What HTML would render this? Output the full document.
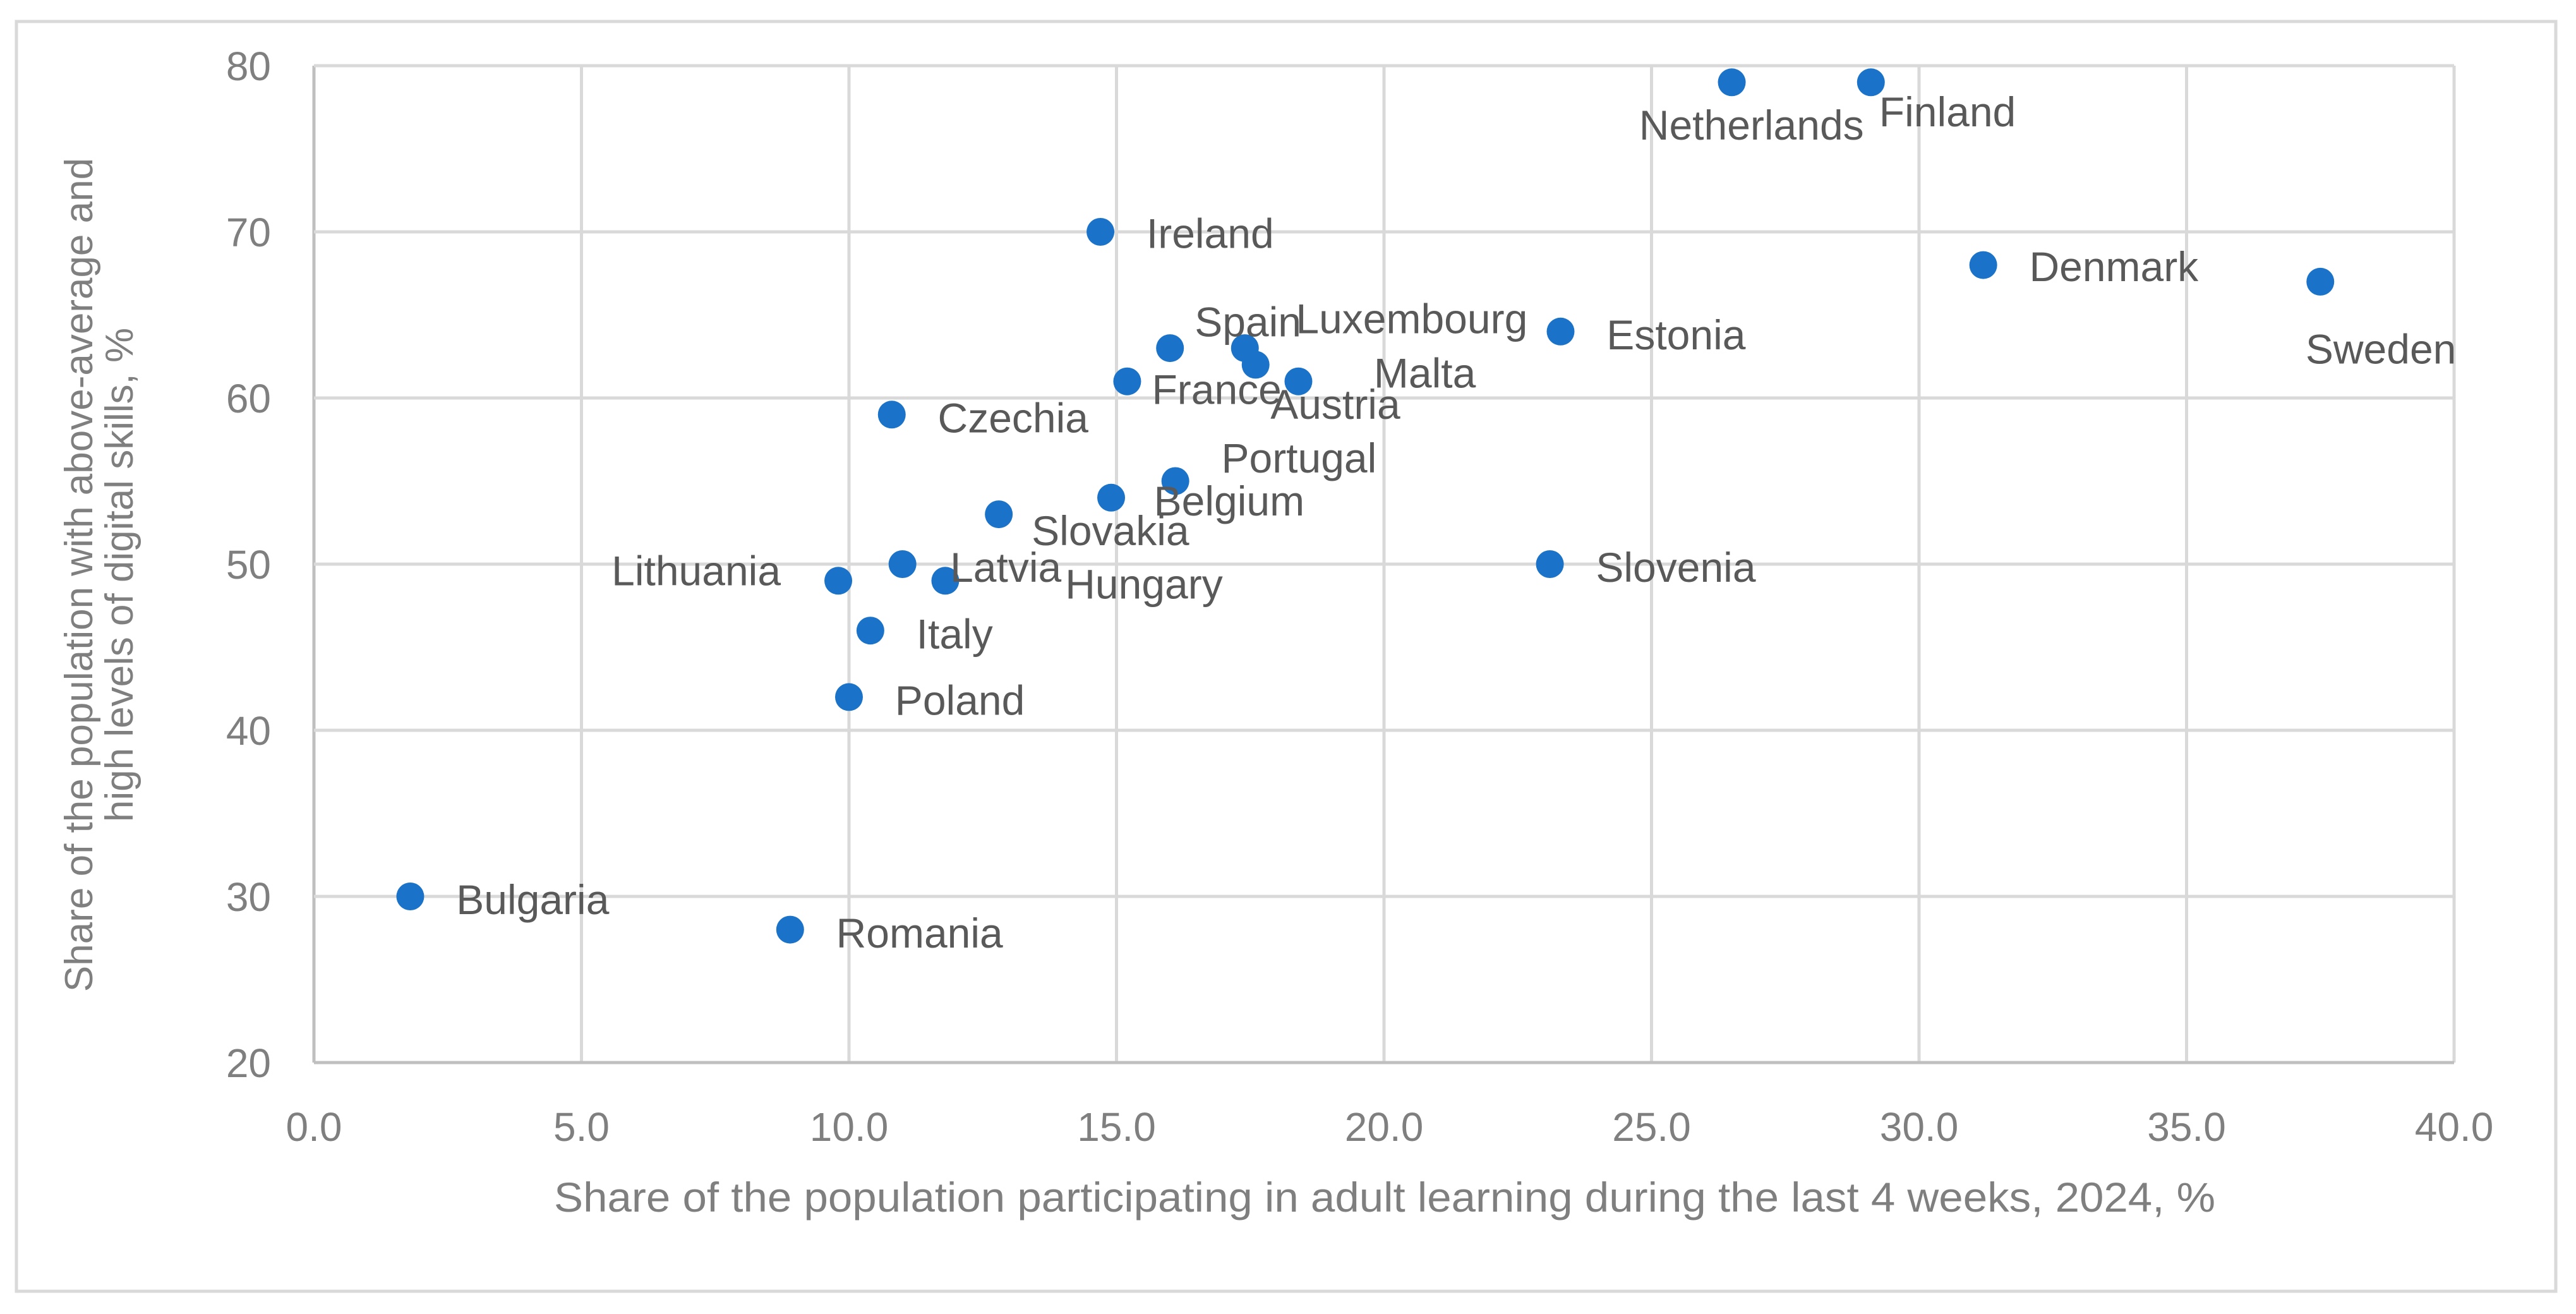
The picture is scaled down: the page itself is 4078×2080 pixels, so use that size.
<!DOCTYPE html>
<html><head><meta charset="utf-8"><style>
html,body{margin:0;padding:0;background:#fff}
svg{display:block}
text{font-family:"Liberation Sans",sans-serif}
</style></head><body>
<svg id="chart" width="4078" height="2080" viewBox="0 0 4078 2080" xmlns="http://www.w3.org/2000/svg">
<rect x="26" y="34" width="4020" height="2010" fill="#fff" stroke="#d9d9d9" stroke-width="5"/>
<g id="grid"></g>
<g id="ticks"></g>
<g id="points"></g>
<g id="labels"></g>
<text x="2192" y="1918" text-anchor="middle" font-size="66" fill="#7f7f7f" textLength="2630" lengthAdjust="spacingAndGlyphs">Share of the population participating in adult learning during the last 4 weeks, 2024, %</text>
<text transform="translate(146,910) rotate(-90)" text-anchor="middle" font-size="62" fill="#7f7f7f"><tspan x="0" y="0">Share of the population with above-average and</tspan><tspan x="0" y="64">high levels of digital skills, %</tspan></text>
</svg>
<script>
const countries=["Bulgaria","Romania","Poland","Italy","Lithuania","Latvia","Hungary","Czechia","Slovakia","Belgium","Portugal","Ireland","France","Spain","Luxembourg","Malta","Austria","Estonia","Slovenia","Netherlands","Finland","Denmark","Sweden"];
const xValues=[1.8,8.9,10.0,10.4,9.8,11.0,11.8,10.8,12.8,14.9,16.1,14.7,15.2,16.0,17.4,17.6,18.4,23.3,23.1,26.5,29.1,31.2,37.5];
const yValues=[30,28,42,46,49,50,49,59,53,54,55,70,61,63,63,62,61,64,50,79,79,68,67];
const xTicks=[0,5,10,15,20,25,30,35,40];
const yTicks=[20,30,40,50,60,70,80];
// label offsets (displayed units) [dx, dy, anchor]
const labelOffsets=[[28,2,"start"],[28,2,"start"],[28,2,"start"],[28,2,"start"],[-35,-6,"end"],[29,2,"start"],[73,2,"start"],[28,2,"start"],[20,10,"start"],[26,2,"start"],[28,-14,"start"],[28,1,"start"],[15,5,"start"],[15,-16,"start"],[31,-18,"start"],[72,5,"start"],[-17,14,"start"],[28,2,"start"],[28,2,"start"],[12,26,"middle"],[5,18,"start"],[28,1,"start"],[-9,41,"start"]];
const L=497,R=3885,T=104,B=1682,S=2.6;
const xs=v=>L+(v-0)/(40-0)*(R-L);
const ys=v=>B-(v-20)/(80-20)*(B-T);
const NS="http://www.w3.org/2000/svg";
function mk(tag,attrs,parent){const e=document.createElementNS(NS,tag);for(const k in attrs)e.setAttribute(k,attrs[k]);parent.appendChild(e);return e;}
const grid=document.getElementById('grid'),ticks=document.getElementById('ticks'),pts=document.getElementById('points'),labs=document.getElementById('labels');
xTicks.forEach(t=>{const l=mk('line',{x1:xs(t),x2:xs(t),y1:T,y2:B,stroke:t===0?'#bfbfbf':'#d9d9d9','stroke-width':5},grid);


const tx=mk('text',{x:xs(t),y:B+124,'text-anchor':'middle','font-size':64,fill:'#7f7f7f'},ticks);tx.textContent=t.toFixed(1);

});
yTicks.forEach(t=>{const l=mk('line',{x1:L,x2:R,y1:ys(t),y2:ys(t),stroke:t===20?'#bfbfbf':'#d9d9d9','stroke-width':5},grid);


const tx=mk('text',{x:L-68,y:ys(t)+23,'text-anchor':'end','font-size':64,fill:'#7f7f7f'},ticks);tx.textContent=t;

});
countries.forEach((c,i)=>{const cx=xs(xValues[i]),cy=ys(yValues[i]);
const p=mk('circle',{cx:cx,cy:cy,r:22,fill:'#1a73c8'},pts);


const o=labelOffsets[i];
const tx=mk('text',{x:cx+o[0]*S,y:cy+o[1]*S+23,'text-anchor':o[2],'font-size':66,fill:'#595959'},labs);
tx.textContent=c;

});
</script>
</body></html>
